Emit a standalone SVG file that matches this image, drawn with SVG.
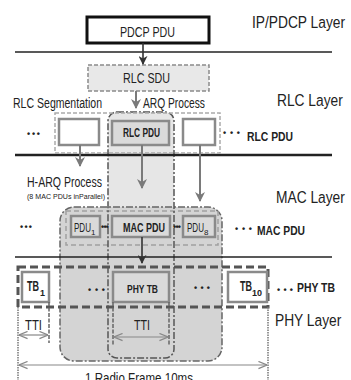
<svg xmlns="http://www.w3.org/2000/svg" width="351" height="380" viewBox="0 0 351 380">
  <defs>
    <marker id="headDark" viewBox="0 0 10 10" refX="9" refY="5" markerWidth="9" markerHeight="9" markerUnits="userSpaceOnUse" orient="auto">
      <path d="M0,0 L10,5 L0,10 L3,5 z" fill="#333"/>
    </marker>
    <marker id="headGray" viewBox="0 0 10 10" refX="9" refY="5" markerWidth="10" markerHeight="10" markerUnits="userSpaceOnUse" orient="auto">
      <path d="M0,0 L10,5 L0,10 L3,5 z" fill="#7a7a7a"/>
    </marker>
    <marker id="headThin" viewBox="0 0 10 10" refX="9.5" refY="5" markerWidth="9" markerHeight="9" markerUnits="userSpaceOnUse" orient="auto-start-reverse">
      <path d="M0,1 L9.5,5 L0,9" fill="none" stroke="#888" stroke-width="1.3"/>
    </marker>
  </defs>
  <style>
    text { font-family: "Liberation Sans", Arial, sans-serif; fill: #222; }
    .layer { font-size: 17px; }
    .lbl { font-size: 14px; }
    .b { font-weight: bold; }
    .dots { font-size: 9px; font-weight: bold; }
    .box { fill: #fff; stroke: #8a8a8a; stroke-width: 2.5; }
    .gbox { fill: #dadada; stroke: #8a8a8a; stroke-width: 2.5; }
    .sep { stroke: #222; fill: none; }
    .arrowG { stroke: #7a7a7a; stroke-width: 2; fill: none; marker-end: url(#headGray); }
    .arrowD { stroke: #333; stroke-width: 1.6; fill: none; marker-end: url(#headDark); }
    .span { stroke: #888; stroke-width: 1.2; fill: none; marker-start: url(#headThin); marker-end: url(#headThin); }
    .tick { stroke: #666; stroke-width: 1.5; stroke-dasharray: 4 1.5; fill: none; }
    .dotted { stroke: #777; stroke-width: 1.5; stroke-dasharray: 1.5 1; fill: none; }
  </style>

  <!-- ARQ process column: shaded band through RLC, MAC and PHY -->
  <g id="arq-column-fill">
    <rect x="108" y="112" width="66" height="246" rx="9" fill="#e6e6e6"/>
  </g>

  <!-- H-ARQ process region (8 MAC PDUs in parallel) -->
  <g id="harq-region">
    <rect x="60" y="207" width="162" height="154" rx="14" fill="#d4d4d4" stroke="#666" stroke-width="1.5" stroke-dasharray="7 2 2 2"/>
    <rect x="66" y="211" width="152" height="34" fill="none" stroke="#a0a0a0" stroke-width="1.5" stroke-dasharray="5 3"/>
  </g>

  <g id="arq-column-outline">
    <rect x="108" y="112" width="66" height="246" rx="9" fill="none" stroke="#555" stroke-width="1.5" stroke-dasharray="7 2 2 2"/>
  </g>

  <!-- layer separators -->
  <g id="separators">
    <line class="sep" x1="15" y1="52" x2="332" y2="52" stroke-width="1.6"/>
    <line class="sep" x1="15" y1="155" x2="332" y2="155" stroke-width="2.5"/>
    <line class="sep" x1="15" y1="257" x2="332" y2="257" stroke-width="1.6"/>
  </g>

  <!-- layer titles (narrow lettering) -->
  <g id="layer-titles">
    <text class="layer" transform="translate(252,28) scale(0.81,1)">IP/PDCP Layer</text>
    <text class="layer" transform="translate(277,106) scale(0.81,1)">RLC Layer</text>
    <text class="layer" transform="translate(276,203) scale(0.81,1)">MAC Layer</text>
    <text class="layer" transform="translate(275,326) scale(0.81,1)">PHY Layer</text>
  </g>

  <!-- IP/PDCP layer -->
  <g id="pdcp-pdu">
    <rect x="87" y="17" width="122" height="26" fill="#fff" stroke="#111" stroke-width="3"/>
    <text x="120" y="37" font-size="15" textLength="55" lengthAdjust="spacingAndGlyphs">PDCP PDU</text>
  </g>

  <!-- RLC layer -->
  <g id="rlc-sdu">
    <rect x="88" y="65" width="121" height="26" fill="#e8e8e8" stroke="#8a8a8a" stroke-width="1.5" stroke-dasharray="4 2"/>
    <text x="123" y="83" font-size="14" textLength="47" lengthAdjust="spacingAndGlyphs">RLC SDU</text>
  </g>

  <g id="rlc-labels">
    <text class="lbl" x="13" y="108" textLength="89" lengthAdjust="spacingAndGlyphs">RLC Segmentation</text>
    <text class="lbl" x="143" y="108" textLength="62" lengthAdjust="spacingAndGlyphs">ARQ Process</text>
  </g>

  <g id="rlc-segmentation">
    <rect x="55" y="113" width="165" height="40" fill="none" stroke="#aaa" stroke-width="1.5" stroke-dasharray="4 2"/>
  </g>

  <g id="rlc-seg-left">
    <rect class="box" x="59" y="119" width="40" height="26"/>
  </g>
  <g id="rlc-pdu">
    <rect class="gbox" x="112" y="121" width="57" height="24"/>
    <text class="b" x="123" y="137" font-size="12" textLength="37" lengthAdjust="spacingAndGlyphs">RLC PDU</text>
  </g>
  <g id="rlc-seg-right">
    <rect class="box" x="183" y="119" width="32" height="26"/>
  </g>

  <g id="rlc-row-labels">
    <text class="dots" x="27" y="137" textLength="13" lengthAdjust="spacing">•••</text>
    <text class="dots" x="223" y="136" textLength="17" lengthAdjust="spacing">•••</text>
    <text class="b" x="247" y="141" font-size="13" textLength="46" lengthAdjust="spacingAndGlyphs">RLC PDU</text>
  </g>

  <!-- MAC layer -->
  <g id="harq-labels">
    <text class="lbl" x="27" y="187" textLength="75" lengthAdjust="spacingAndGlyphs">H-ARQ Process</text>
    <text x="27" y="199" font-size="7" textLength="78" lengthAdjust="spacingAndGlyphs">(8 MAC PDUs inParallel)</text>
  </g>

  <g id="mac-pdu-1">
    <rect class="gbox" x="71" y="216" width="29" height="21"/>
    <text x="74" y="232" font-size="12" textLength="17" lengthAdjust="spacingAndGlyphs">PDU</text>
    <text x="91" y="235" font-size="8">1</text>
  </g>
  <g id="mac-pdu">
    <rect class="gbox" x="112" y="216" width="58" height="21"/>
    <text class="b" x="123" y="232" font-size="12" textLength="42" lengthAdjust="spacingAndGlyphs">MAC PDU</text>
  </g>
  <g id="mac-pdu-8">
    <rect class="gbox" x="183" y="216" width="32" height="21"/>
    <text x="187" y="232" font-size="12" textLength="17" lengthAdjust="spacingAndGlyphs">PDU</text>
    <text x="204" y="235" font-size="8">8</text>
  </g>

  <g id="mac-row-labels">
    <text class="dots" x="20" y="230" textLength="12" lengthAdjust="spacing">•••</text>
    <text class="dots" x="101" y="230" textLength="8" lengthAdjust="spacing">•••</text>
    <text class="dots" x="173" y="230" textLength="8" lengthAdjust="spacing">•••</text>
    <text class="dots" x="235" y="232" textLength="17" lengthAdjust="spacing">•••</text>
    <text class="b" x="257" y="235" font-size="13" textLength="48" lengthAdjust="spacingAndGlyphs">MAC PDU</text>
  </g>

  <!-- PHY layer -->
  <g id="phy-frame">
    <rect x="18" y="267" width="250" height="40" fill="none" stroke="#555" stroke-width="3" stroke-dasharray="8 4"/>
  </g>

  <g id="tb-1">
    <rect class="box" x="22" y="272" width="27" height="30"/>
    <text class="b" x="27" y="291" font-size="14" textLength="12" lengthAdjust="spacingAndGlyphs">TB</text>
    <text class="b" x="40" y="296" font-size="9">1</text>
  </g>
  <g id="phy-tb">
    <rect class="gbox" x="113" y="272" width="56" height="30" stroke-width="3"/>
    <text class="b" x="127" y="293" font-size="11" textLength="31" lengthAdjust="spacingAndGlyphs">PHY TB</text>
  </g>
  <g id="tb-10">
    <rect class="box" x="228" y="272" width="39" height="30"/>
    <text class="b" x="240" y="291" font-size="14" textLength="12" lengthAdjust="spacingAndGlyphs">TB</text>
    <text class="b" x="252" y="296" font-size="9" textLength="10" lengthAdjust="spacingAndGlyphs">10</text>
  </g>

  <g id="phy-row-labels">
    <text class="dots" x="88" y="293" textLength="17" lengthAdjust="spacing">•••</text>
    <text class="dots" x="194" y="291" textLength="16" lengthAdjust="spacing">•••</text>
    <text class="dots" x="277" y="293" textLength="16" lengthAdjust="spacing">•••</text>
    <text class="b" x="297" y="292" font-size="12" textLength="38" lengthAdjust="spacingAndGlyphs">PHY TB</text>
  </g>

  <!-- timing annotations -->
  <g id="tti-left">
    <text class="lbl" x="25" y="330" textLength="17" lengthAdjust="spacingAndGlyphs">TTI</text>
  </g>
  <g id="tti-center">
    <text class="lbl" x="134" y="330" textLength="16" lengthAdjust="spacingAndGlyphs">TTI</text>
  </g>
  <g id="radio-frame">
    <text class="lbl" x="85" y="383" textLength="108" lengthAdjust="spacingAndGlyphs">1 Radio Frame 10ms</text>
  </g>

  <!-- connectors -->
  <g id="connectors">
    <line class="arrowD" x1="143" y1="43" x2="143" y2="64"/>
    <line class="arrowG" x1="136" y1="91" x2="136" y2="108"/>
    <line class="arrowG" x1="80" y1="145" x2="80" y2="166"/>
    <line class="arrowG" x1="142" y1="145" x2="142" y2="188"/>
    <line class="arrowG" x1="200" y1="145" x2="200" y2="201"/>
    <line class="arrowD" x1="142" y1="237" x2="142" y2="263"/>

    <line class="dotted" x1="18" y1="307" x2="18" y2="380"/>
    <line class="dotted" x1="268" y1="307" x2="268" y2="380"/>
    <line class="tick" x1="49" y1="302" x2="49" y2="343"/>
    <line class="tick" x1="113" y1="302" x2="113" y2="345"/>
    <line class="tick" x1="169" y1="302" x2="169" y2="345"/>

    <line class="span" x1="19" y1="335" x2="48" y2="335"/>
    <line class="span" x1="114" y1="337" x2="168" y2="337"/>
    <line class="span" x1="19" y1="365" x2="267" y2="365"/>
  </g>
</svg>
